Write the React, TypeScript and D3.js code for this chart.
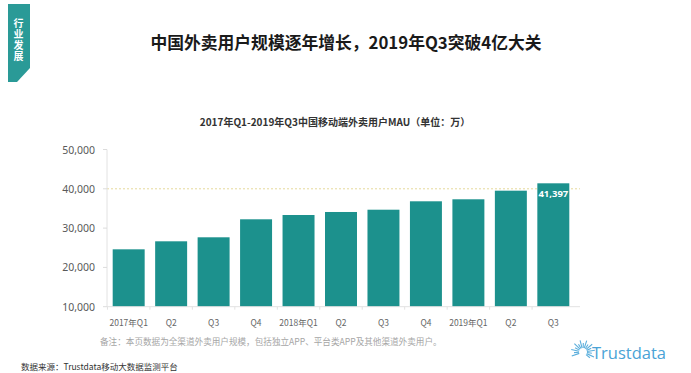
import React from "react";
import * as d3 from "d3";

const categories = ["2017年Q1", "Q2", "Q3", "Q4", "2018年Q1", "Q2 ", "Q3 ", "Q4 ", "2019年Q1", "Q2  ", "Q3  "];
const mau = [24600, 26640, 27660, 32240, 33330, 34100, 34680, 36820, 37330, 39520, 41397];
const yTicks = [10000, 20000, 30000, 40000, 50000];
const tagText = "行业发展";

const W = 691;
const H = 373;
const TEAL = "#1c918d";
const CJK = "'Noto Sans CJK SC', 'Noto Sans', sans-serif";

export default function App() {
  const x = d3
    .scaleBand<string>()
    .domain(categories)
    .range([107, 575])
    .paddingInner(0.247)
    .paddingOuter(0.134);
  const y = d3.scaleLinear().domain([10000, 50000]).range([306.7, 149.5]);
  const fmt = d3.format(",");
  const step = x.step();

  const rays = d3.range(0, 16).map((i) => {
    const a = (-200 + i * 16) * (Math.PI / 180);
    const long = i % 2 === 0;
    return { a, r0: 4, r1: long ? 12 : 9 };
  });

  return (
    <svg
      width={W}
      height={H}
      style={{ position: "absolute", left: 0, top: 0, background: "#fff" }}
      fontFamily={CJK}
    >
      {/* tag */}
      <polygon points="8,4 30,4 30,68 17,82 8,82" fill="#2a9a97" />
      <text
        x={18.5}
        y={40.5}
        fill="#fff"
        fontSize={10}
        fontWeight="bold"
        textAnchor="middle"
        letterSpacing={1.2}
        style={{ writingMode: "vertical-rl" }}
      >
        {tagText}
      </text>

      {/* title */}
      <text x={346} y={42} fontSize={16.8} fontWeight="bold" fill="#1a1a1a" textAnchor="middle" dominantBaseline="central">
        中国外卖用户规模逐年增长，2019年Q3突破4亿大关
      </text>

      {/* subtitle */}
      <text x={335} y={121} fontSize={10} fontWeight="bold" fill="#333" textAnchor="middle" dominantBaseline="central">
        2017年Q1-2019年Q3中国移动端外卖用户MAU（单位：万）
      </text>

      {/* gridline at 40,000 */}
      <line x1={107} x2={580} y1={y(40000)} y2={y(40000)} stroke="#e6d99a" strokeDasharray="2,2" strokeWidth={1} />

      {/* y axis */}
      <line x1={107} x2={107} y1={y(50000)} y2={y(10000)} stroke="#e2e2e2" />
      {yTicks.map((t) => (
        <g key={t}>
          <line x1={103} x2={107} y1={y(t)} y2={y(t)} stroke="#dcdcdc" />
          <text x={95} y={y(t)} fontSize={10.5} fill="#595959" textAnchor="end" dominantBaseline="central" fontFamily="'Noto Sans', sans-serif">
            {fmt(t)}
          </text>
        </g>
      ))}

      {/* bars */}
      {categories.map((c, i) => (
        <rect key={c} x={x(c)} y={y(mau[i])} width={x.bandwidth()} height={y(10000) - y(mau[i])} fill={TEAL} />
      ))}

      {/* x axis */}
      <line x1={107} x2={580} y1={y(10000)} y2={y(10000)} stroke="#e2e2e2" />
      {categories.map((c, i) => (
        <g key={"t" + i}>
          <line
            x1={(x(c) as number) - (step - x.bandwidth()) / 2}
            x2={(x(c) as number) - (step - x.bandwidth()) / 2}
            y1={y(10000)}
            y2={y(10000) + 3}
            stroke="#e2e2e2"
          />
          <text
            x={(x(c) as number) + x.bandwidth() / 2}
            y={321.5}
            fontSize={8.5}
            fill="#666"
            textAnchor="middle"
            dominantBaseline="central"
          >
            {c.trim()}
          </text>
        </g>
      ))}

      {/* value label on last bar */}
      <text
        x={(x(categories[10]) as number) + x.bandwidth() / 2}
        y={y(mau[10]) + 10}
        fontSize={9.5}
        fontWeight="bold"
        fill="#fff"
        textAnchor="middle"
        dominantBaseline="central"
        fontFamily="'Noto Sans', sans-serif"
      >
        {fmt(mau[10])}
      </text>

      {/* footnote */}
      <text x={100} y={341} fontSize={8.6} fill="#a6a6a6" dominantBaseline="central">
        备注：本页数据为全渠道外卖用户规模，包括独立APP、平台类APP及其他渠道外卖用户。
      </text>

      {/* source */}
      <text x={21} y={366} fontSize={8.5} fill="#333" dominantBaseline="central">
        数据来源：Trustdata移动大数据监测平台
      </text>

      {/* logo */}
      <g stroke="#5aaedc" strokeWidth={1.1}>
        {rays.map((r, i) => (
          <line
            key={i}
            x1={583 + r.r0 * Math.cos(r.a)}
            y1={352 + r.r0 * Math.sin(r.a)}
            x2={583 + r.r1 * Math.cos(r.a)}
            y2={352 + r.r1 * Math.sin(r.a)}
          />
        ))}
      </g>
      <text x={592} y={352} fontSize={16.5} fill="#4aa3d6" dominantBaseline="central" fontFamily="'Open Sans', 'Noto Sans', sans-serif">
        Trustdata
      </text>
    </svg>
  );
}
